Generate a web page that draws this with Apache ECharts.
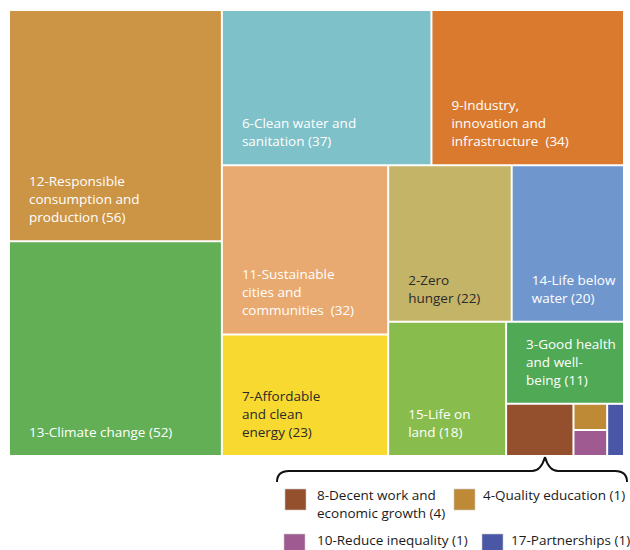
<!DOCTYPE html>
<html>
<head>
<meta charset="utf-8">
<script src="https://cdn.jsdelivr.net/npm/echarts@6/dist/echarts.min.js"></script>
<style>html,body{margin:0;padding:0;background:#fff}#c{width:630px;height:550px}</style>
</head>
<body>
<div id="c"></div>
<script>
// ---- data ----
const goals = [
  '12-Responsible consumption and production',
  '13-Climate change',
  '6-Clean water and sanitation',
  '9-Industry, innovation and infrastructure',
  '11-Sustainable cities and communities',
  '7-Affordable and clean energy',
  '2-Zero hunger',
  '14-Life below water',
  '15-Life on land',
  '3-Good health and well-being',
  '8-Decent work and economic growth',
  '4-Quality education',
  '10-Reduce inequality',
  '17-Partnerships'
];
const counts = [56, 52, 37, 34, 32, 23, 22, 20, 18, 11, 4, 1, 1, 1];
// wrapped label lines as in the picture (empty = no label in cell)
const labelLines = [
  '12-Responsible\nconsumption and\nproduction',
  '13-Climate change',
  '6-Clean water and\nsanitation',
  '9-Industry,\ninnovation and\ninfrastructure ',
  '11-Sustainable\ncities and\ncommunities ',
  '7-Affordable\nand clean\nenergy',
  '2-Zero\nhunger',
  '14-Life below\nwater',
  '15-Life on\nland',
  '3-Good health\nand well-\nbeing',
  '', '', '', ''
];
const legendLines = [
  '8-Decent work and\neconomic growth',
  '4-Quality education',
  '10-Reduce inequality',
  '17-Partnerships'
];
const colors = ['#CC9545', '#62AF55', '#7EC1C9', '#DA7A2E', '#E8AA70', '#F8D92F',
  '#C4B468', '#6F97CE', '#88BD4E', '#4FA955', '#944F2C', '#BF8A36', '#9F5A92', '#4A56A6'];
const darkLabel = ['2-Zero hunger', '7-Affordable and clean energy'];

// ---- build tree ----
function leaf(i) {
  return {
    name: goals[i], value: counts[i],
    itemStyle: { color: colors[i] },
    label: { color: darkLabel.indexOf(goals[i]) >= 0 ? '#2a2a2a' : '#ffffff' }
  };
}
const treeData = [];
for (let i = 0; i < 10; i++) treeData.push(leaf(i));
// small goals grouped (8 with 4/10 stacked, 17 beside)
treeData.push({
  name: 'small',
  children: [
    { name: 'g1', children: [leaf(10), { name: 'g2', children: [leaf(11), leaf(12)] }] },
    leaf(13)
  ]
});

const labelMap = {};
goals.forEach((g, i) => { labelMap[g] = labelLines[i] ? labelLines[i] + ' (' + counts[i] + ')' : ''; });

const chart = echarts.init(document.getElementById('c'), null, { renderer: 'svg' });

// brace + legend graphics
const braceStyle = { stroke: '#111', lineWidth: 2, fill: null };
const graphics = [
  { type: 'bezierCurve', shape: { x1: 277, y1: 482, cpx1: 277, cpy1: 471, x2: 289, y2: 471 }, style: braceStyle },
  { type: 'line', shape: { x1: 289, y1: 471, x2: 532, y2: 471 }, style: braceStyle },
  { type: 'bezierCurve', shape: { x1: 532, y1: 471, cpx1: 541, cpy1: 471, x2: 545, y2: 457 }, style: braceStyle },
  { type: 'bezierCurve', shape: { x1: 545, y1: 457, cpx1: 549, cpy1: 471, x2: 558, y2: 471 }, style: braceStyle },
  { type: 'line', shape: { x1: 558, y1: 471, x2: 615, y2: 471 }, style: braceStyle },
  { type: 'bezierCurve', shape: { x1: 615, y1: 471, cpx1: 627, cpy1: 471, x2: 627, y2: 482 }, style: braceStyle }
];
const legendPos = [[285, 489, 317, 495], [454, 489, 483, 495], [284, 534, 317, 540], [482, 534, 511, 540]];
for (let k = 0; k < 4; k++) {
  const idx = 10 + k;
  const p = legendPos[k];
  graphics.push({
    type: 'rect',
    shape: { x: p[0], y: p[1], width: 21, height: 21 },
    style: { fill: colors[idx], stroke: '#c9c9c9', lineWidth: 0.6 }
  });
  graphics.push({
    type: 'text',
    x: p[2], y: p[3] - 9,
    style: {
      text: legendLines[k] + ' (' + counts[idx] + ')',
      fill: '#1a1a1a', font: '13.5px "Open Sans"', lineHeight: 18,
      verticalAlign: 'top'
    }
  });
}

chart.setOption({
  animation: false,
  graphic: graphics,
  series: [{
    type: 'treemap',
    left: 10, top: 11, width: 613, height: 444,
    roam: false, nodeClick: false,
    breadcrumb: { show: false },
    drillDownIcon: '',
    sort: false,
    squareRatio: 1,
    itemStyle: { borderWidth: 0, gapWidth: 2, borderColor: '#ffffff' },
    label: {
      show: true,
      position: 'insideBottomLeft',
      distance: 14,
      offset: [0, 5],
      fontFamily: 'Open Sans',
      fontSize: 13.5,
      lineHeight: 18,
      overflow: 'none',
      formatter: p => labelMap[p.name] || ''
    },
    emphasis: { disabled: true },
    data: treeData
  }]
});
</script>
</body>
</html>
